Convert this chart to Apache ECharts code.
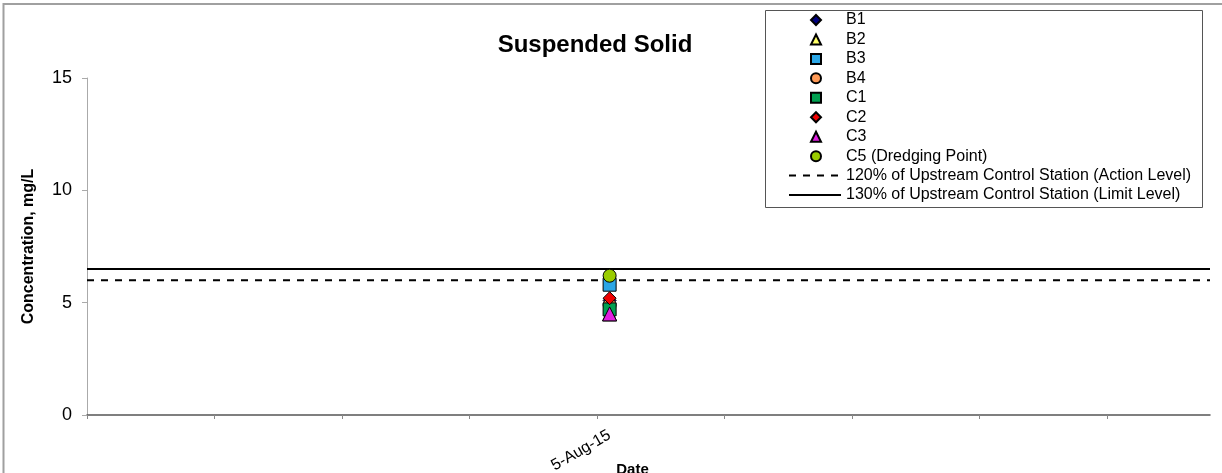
<!DOCTYPE html>
<html>
<head>
<meta charset="utf-8">
<script src="https://cdn.jsdelivr.net/npm/echarts@6/dist/echarts.min.js"></script>
<style>
  html, body { margin: 0; padding: 0; background: #fff; }
  #chart { width: 1222px; height: 473px; }
</style>
</head>
<body>
<div id="chart"></div>
<script>
// ---- data ----
const stationNames = ['B1', 'B2', 'B3', 'B4', 'C1', 'C2', 'C3', 'C5 (Dredging Point)'];
const stationValues = [5.1, 4.5, 5.8, 4.9, 4.7, 5.2, 4.5, 6.2];   // mg/L on the sample date
const sampleDateLabel = '5-Aug-15';
const sampleDatePos = 4.1;           // position of the sample date on the date axis (in tick units)
const xTickValues = [0, 1, 2, 3, 4, 5, 6, 7, 8];
const xAxisMax = 8.81;
const yTicks = [0, 5, 10, 15];
const actionLevelName = '120% of Upstream Control Station (Action Level)';
const limitLevelName = '130% of Upstream Control Station (Limit Level)';
const actionLevel = 6.0;
const limitLevel = 6.5;

// ---- styles ----
const symbols = ['diamond', 'triangle', 'rect', 'circle', 'rect', 'diamond', 'triangle', 'circle'];
const colors = ['#000080', '#ffff66', '#2aa6e6', '#ff9955', '#00a050', '#ee0000', '#e020e0', '#99cc00'];
const sizes = [13, 14, 13, 13, 13, 13, 14, 13];
const FONT = '"Liberation Sans", Arial, sans-serif';
const ROW = 19.45;

const series = stationNames.map((name, i) => ({
  name,
  type: 'scatter',
  symbol: symbols[i],
  symbolSize: sizes[i],
  itemStyle: { color: colors[i], borderColor: '#000', borderWidth: 1, opacity: 1 },
  data: [[sampleDatePos, stationValues[i]]]
}));
series.push({
  name: actionLevelName,
  type: 'line',
  symbol: 'none',
  itemStyle: { color: 'rgba(0,0,0,0)', borderWidth: 0 },
  lineStyle: { color: '#000', width: 2, type: [7, 7] },
  data: [[0, actionLevel], [xAxisMax, actionLevel]],
  z: 1
});
series.push({
  name: limitLevelName,
  type: 'line',
  symbol: 'none',
  itemStyle: { color: 'rgba(0,0,0,0)', borderWidth: 0 },
  lineStyle: { color: '#000', width: 2, type: 'solid' },
  data: [[0, limitLevel], [xAxisMax, limitLevel]],
  z: 1
});

const legendText = { fontFamily: FONT, fontSize: 16, lineHeight: 16, color: '#000' };

const chart = echarts.init(document.getElementById('chart'), null, { renderer: 'canvas' });
chart.setOption({
  animation: false,
  backgroundColor: '#fff',
  textStyle: { fontFamily: FONT },
  graphic: [{
    type: 'rect',
    shape: { x: 3.5, y: 4, width: 1400, height: 700 },
    style: { fill: 'none', stroke: '#a0a0a0', lineWidth: 2 },
    z: -10
  }, {
    type: 'rect',
    shape: { x: 765.5, y: 10.5, width: 437, height: 197 },
    style: { fill: '#fff', stroke: '#555', lineWidth: 1 },
    z: 0
  }],
  title: {
    text: 'Suspended Solid',
    left: 590, top: 28, textAlign: 'center',
    textStyle: { fontFamily: FONT, fontSize: 24, fontWeight: 'bold', color: '#000' }
  },
  legend: [{
    orient: 'vertical',
    left: 810, top: 12,
    padding: 0,
    itemWidth: 10, itemHeight: 10, itemGap: ROW - 16,
    textStyle: Object.assign({ padding: [0, 0, 0, 20] }, legendText),
    data: stationNames
  }, {
    orient: 'vertical',
    left: 788, top: 12 + ROW * 8,
    padding: 0,
    itemWidth: 52, itemHeight: 10, itemGap: ROW - 16,
    textStyle: legendText,
    data: [actionLevelName, limitLevelName]
  }],
  grid: { left: 87, right: 12, top: 78, bottom: 58, outerBoundsMode: 'none', containLabel: false },
  xAxis: {
    type: 'value',
    min: 0, max: xAxisMax, interval: 1,
    name: 'Date',
    nameLocation: 'middle',
    nameGap: 47,
    nameMoveOverlap: false,
    nameTextStyle: { fontFamily: FONT, fontSize: 15, fontWeight: 'bold', color: '#000', padding: [0, 32, 0, 0] },
    axisLine: { show: true, lineStyle: { color: '#555', width: 1.5 } },
    axisTick: { show: true, inside: false, length: 4, customValues: xTickValues, lineStyle: { color: '#888' } },
    axisLabel: {
      customValues: [sampleDatePos],
      formatter: () => sampleDateLabel,
      rotate: 30, margin: 19,
      fontFamily: FONT, fontSize: 16, color: '#000'
    },
    splitLine: { show: false }
  },
  yAxis: {
    type: 'value',
    min: yTicks[0], max: yTicks[yTicks.length - 1], interval: yTicks[1] - yTicks[0],
    name: 'Concentration, mg/L',
    nameLocation: 'middle',
    nameGap: 50,
    nameTextStyle: { fontFamily: FONT, fontSize: 16, fontWeight: 'bold', color: '#000' },
    axisLine: { show: true, lineStyle: { color: '#aaa', width: 1 } },
    axisTick: { show: true, length: 5, lineStyle: { color: '#aaa' } },
    axisLabel: { margin: 15, fontFamily: FONT, fontSize: 18, color: '#000' },
    splitLine: { show: false }
  },
  series
});
</script>
</body>
</html>
